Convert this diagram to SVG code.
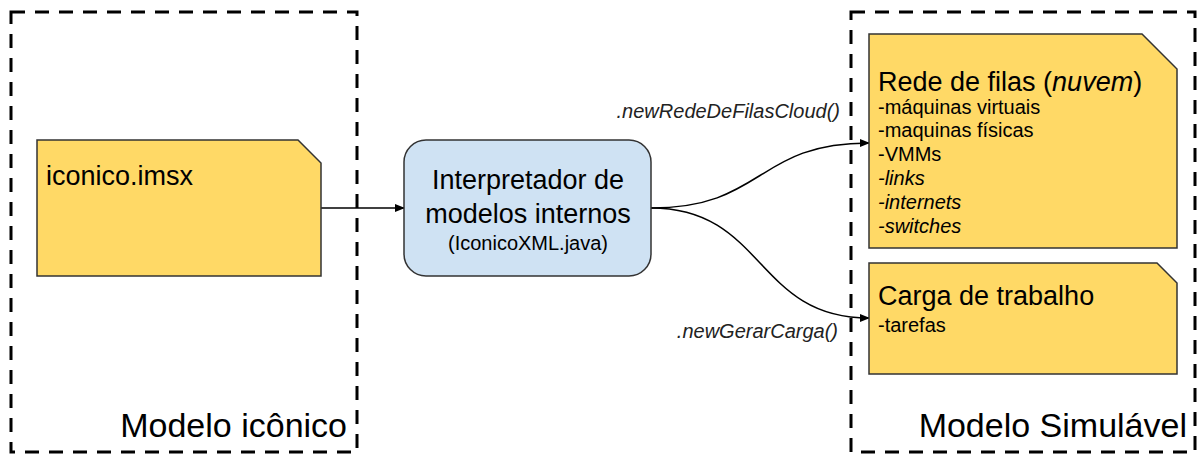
<svg xmlns="http://www.w3.org/2000/svg" width="1201" height="454" viewBox="0 0 1201 454">
<style>
text{font-family:"Liberation Sans",Arial,sans-serif;fill:#000}
.frame{fill:none;stroke:#000;stroke-width:3;stroke-dasharray:14 10}
.doc{fill:#ffd966;stroke:#333;stroke-width:1.5}
.proc{fill:#cfe2f3;stroke:#333;stroke-width:1.5}
.edge{fill:none;stroke:#000;stroke-width:1.5}
.big{font-size:34px}
.title{font-size:27px}
.item{font-size:20px}
.it{font-style:italic}
.lbl{font-size:20px;font-style:italic;text-anchor:end;fill:#222}
</style>
<defs>
<marker id="arr" markerWidth="10" markerHeight="8" refX="9" refY="4" orient="auto" markerUnits="userSpaceOnUse">
<path d="M0,0 L10,4 L0,8 z" fill="#000"/>
</marker>
</defs>
<rect fill="#fff" x="0" y="0" width="1201" height="454"/>
<g id="frame-iconico">
<rect class="frame" x="11" y="12" width="346" height="440"/>
<text class="big" x="347" y="437" text-anchor="end">Modelo icônico</text>
</g>
<g id="frame-simulavel">
<rect class="frame" x="851" y="12" width="344" height="440"/>
<text class="big" x="1187" y="437" text-anchor="end">Modelo Simulável</text>
</g>
<g id="edges">
<path class="edge" d="M321,208 L404,208" marker-end="url(#arr)"/>
<path class="edge" d="M651,208 C765,208 755,143 869,143" marker-end="url(#arr)"/>
<path class="edge" d="M651,208 C765,208 755,318 869,318" marker-end="url(#arr)"/>
<text class="lbl" x="840" y="118">.newRedeDeFilasCloud()</text>
<text class="lbl" x="838" y="338">.newGerarCarga()</text>
</g>
<g id="node-iconico-imsx">
<path class="doc" d="M37,140 L298,140 L321,163 L321,276 L37,276 Z"/>
<text class="title" x="46" y="185">iconico.imsx</text>
</g>
<g id="node-interpretador">
<rect class="proc" x="404" y="140" width="247" height="136" rx="22" ry="22"/>
<text class="title" x="528" y="189" text-anchor="middle">Interpretador de</text>
<text class="title" x="528" y="223" text-anchor="middle">modelos internos</text>
<text class="item" x="528" y="250" text-anchor="middle" fill="#222">(IconicoXML.java)</text>
</g>
<g id="node-rede-de-filas">
<path class="doc" d="M869,34 L1142,34 L1177,69 L1177,248 L869,248 Z"/>
<text class="title" x="878" y="91">Rede de filas (<tspan class="it">nuvem</tspan>)</text>
<text class="item" x="878" y="114">-máquinas virtuais</text>
<text class="item" x="878" y="137">-maquinas físicas</text>
<text class="item" x="878" y="161">-VMMs</text>
<text class="item it" x="878" y="185">-links</text>
<text class="item it" x="878" y="209">-internets</text>
<text class="item it" x="878" y="233">-switches</text>
</g>
<g id="node-carga">
<path class="doc" d="M869,263 L1157,263 L1177,283 L1177,374 L869,374 Z"/>
<text class="title" x="878" y="305">Carga de trabalho</text>
<text class="item" x="878" y="332">-tarefas</text>
</g>
</svg>
